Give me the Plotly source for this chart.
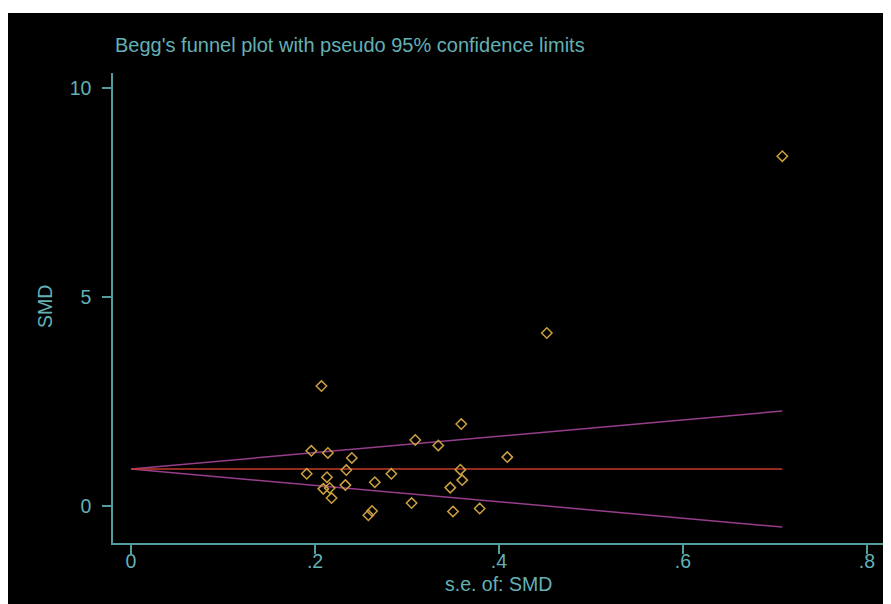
import plotly.graph_objects as go

# Study-level data
se_smd = [0.708, 0.452, 0.207, 0.359, 0.309, 0.334, 0.409, 0.196, 0.214, 0.240,
          0.234, 0.358, 0.191, 0.213, 0.283, 0.360, 0.233, 0.265, 0.209, 0.216,
          0.347, 0.218, 0.305, 0.262, 0.258, 0.350, 0.379]
smd = [8.37, 4.14, 2.87, 1.96, 1.58, 1.45, 1.17, 1.32, 1.27, 1.15,
       0.86, 0.87, 0.77, 0.69, 0.77, 0.62, 0.50, 0.57, 0.41, 0.43,
       0.44, 0.19, 0.07, -0.12, -0.22, -0.13, -0.06]

pooled_smd = 0.885
z95 = 1.96

x_tickvals = [0, 0.2, 0.4, 0.6, 0.8]
x_ticktext = ["0", ".2", ".4", ".6", ".8"]
y_tickvals = [0, 5, 10]
y_ticktext = ["0", "5", "10"]

TEAL = "rgb(100,176,180)"
AXIS = "rgb(84,156,158)"
GOLD = "rgb(204,160,64)"
PURPLE = "rgb(150,62,140)"
RED = "rgb(196,58,44)"
FONT = "Liberation Sans, Arial, sans-serif"

se_line = [0, max(se_smd)]
upper = [pooled_smd + z95 * s for s in se_line]
lower = [pooled_smd - z95 * s for s in se_line]
center = [pooled_smd for s in se_line]

fig = go.Figure()
fig.add_trace(go.Scatter(x=se_line, y=upper, mode="lines",
                         line=dict(color=PURPLE, width=1.5), showlegend=False))
fig.add_trace(go.Scatter(x=se_line, y=lower, mode="lines",
                         line=dict(color=PURPLE, width=1.5), showlegend=False))
fig.add_trace(go.Scatter(x=se_line, y=center, mode="lines",
                         line=dict(color=RED, width=1.5), showlegend=False))
fig.add_trace(go.Scatter(x=se_smd, y=smd, mode="markers",
                         marker=dict(symbol="diamond-open", size=8, color=GOLD,
                                     line=dict(width=1.5, color=GOLD)),
                         showlegend=False))

# page offset of 8px (body margin) -> figure coordinates = page coords - 8
OFF = 8
W, H = 891 - OFF, 604 - OFF
L = 113 - OFF
T = 73 - OFF
R = W - (886 - OFF)
B = H - (543 - OFF)
pw, ph = W - L - R, H - T - B

def px_x(px):
    return (px - OFF - L) / pw

def px_y(py):
    return (H - B - (py - OFF)) / ph

fig.update_layout(
    width=W, height=H,
    margin=dict(l=L, r=R, t=T, b=B, pad=0),
    paper_bgcolor="black", plot_bgcolor="black",
    font=dict(family=FONT, color=TEAL, size=19),
    xaxis=dict(range=[-0.0196, 0.8207], showgrid=False, zeroline=False,
               showline=True, linecolor=AXIS, linewidth=1.5,
               ticks="outside", ticklen=9, tickwidth=1.5, tickcolor=AXIS,
               tickvals=x_tickvals, ticktext=x_ticktext,
               tickfont=dict(size=19.5, color=TEAL), ticklabelstandoff=-9),
    yaxis=dict(range=[-0.885, 10.36], showgrid=False, zeroline=False,
               showline=True, linecolor=AXIS, linewidth=1.5,
               ticks="outside", ticklen=9, tickwidth=1.5, tickcolor=AXIS,
               tickvals=y_tickvals, ticktext=y_ticktext,
               tickfont=dict(size=19.5, color=TEAL), ticklabelstandoff=7),
    annotations=[
        dict(text="Begg's funnel plot with pseudo 95% confidence limits",
             xref="paper", yref="paper", x=px_x(113), y=px_y(45),
             xanchor="left", yanchor="middle", showarrow=False,
             font=dict(size=20, color=TEAL, family=FONT)),
        dict(text="s.e. of: SMD", xref="paper", yref="paper",
             x=px_x(498), y=px_y(584), xanchor="center", yanchor="middle",
             showarrow=False, font=dict(size=19.5, color=TEAL, family=FONT)),
        dict(text="SMD", xref="paper", yref="paper", textangle=-90,
             x=px_x(45), y=px_y(307), xanchor="center", yanchor="middle",
             showarrow=False, font=dict(size=19.5, color=TEAL, family=FONT)),
    ],
    shapes=[
        dict(type="rect", xref="paper", yref="paper", layer="above",
             x0=px_x(0), x1=px_x(900), y0=px_y(13), y1=px_y(0),
             fillcolor="white", line=dict(width=0)),
    ],
)

fig.write_html("out.html")
